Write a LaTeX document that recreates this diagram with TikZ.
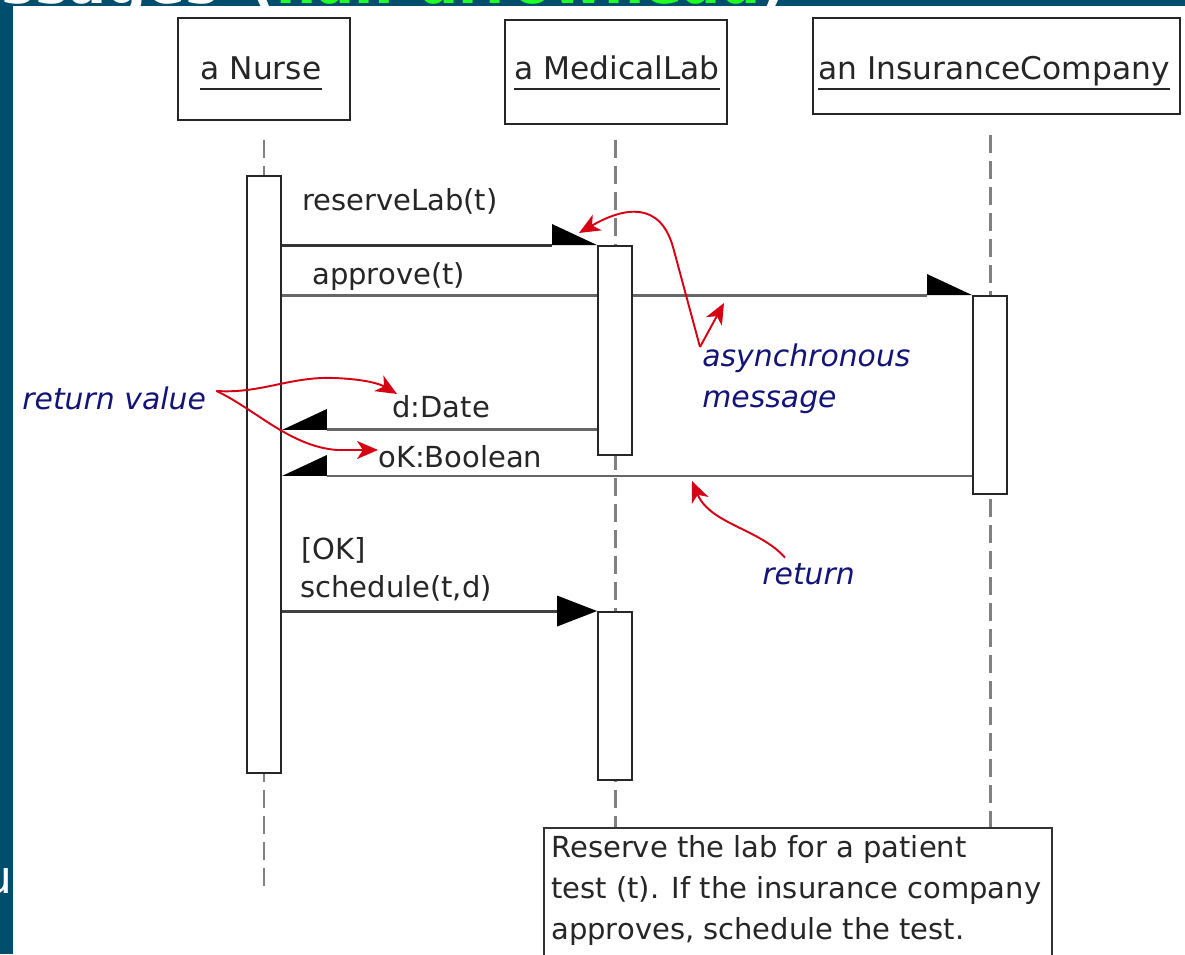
\documentclass[tikz,border=0pt]{standalone}
\usepackage{fontspec}
\setmainfont{DejaVu Sans}
\usetikzlibrary{arrows.meta,positioning,backgrounds}
\definecolor{slideblue}{RGB}{0,78,110}
\definecolor{slidegreen}{RGB}{34,255,34}
\definecolor{remarkred}{RGB}{214,0,20}
\definecolor{remarknavy}{RGB}{20,20,120}
\newcommand{\headfont}{\fontsize{17.8}{21}\selectfont}
\newcommand{\msgfont}{\fontsize{16.5}{23.3}\selectfont}
\newcommand{\remarkfont}{\fontsize{17}{23.8}\selectfont\itshape}
\tikzset{
  headbox/.style={draw=black!85, line width=1.1pt, fill=white, inner sep=0pt},
  headlabel/.style={anchor=base, inner sep=0pt, text=black!85, font=\headfont},
  actbar/.style={draw=black!85, line width=1.1pt, fill=white, minimum width=0.68cm, inner sep=0pt},
  lifeline/.style={draw=black!50, line width=1.7pt, dash pattern=on 0.36cm off 0.16cm},
  asyncmsg/.style={draw=black!60, line width=1.7pt, -{Triangle[harpoon,length=0.9cm,width=0.84cm,line width=0pt,color=black]}},
  returnmsg/.style={draw=black!60, line width=1.7pt, -{Triangle[harpoon,swap,length=0.9cm,width=0.84cm,line width=0pt,color=black]}},
  syncmsg/.style={draw=black!75, line width=1.7pt, -{Triangle[length=0.8cm,width=0.62cm,line width=0pt,color=black]}},
  msglabel/.style={anchor=base west, inner sep=0pt, text=black!85, font=\msgfont},
  remark/.style={inner sep=0pt, text=remarknavy, font=\remarkfont},
  pointer/.style={draw=remarkred, line width=1.1pt, -{Stealth[length=0.42cm,width=0.36cm,inset=0.12cm]}},
  slidetitle/.style={inner sep=0pt, font=\fontsize{32}{36}\selectfont\bfseries}
}
\begin{document}
\begin{tikzpicture}
\useasboundingbox (0,0) rectangle (23.7,19.08);
\begin{scope}[on background layer]
\fill[white] (0,0) rectangle (23.7,19.08);
\end{scope}
%slide edges
\fill[slideblue] (0,0) rectangle (0.25,19.08);
\fill[slideblue] (0,18.96) rectangle (23.7,19.08);
\begin{scope}
\clip (0,18.96) rectangle (23.7,19.08);
\node[slidetitle, anchor=base east, text=white] (titleA) at (4.38,19.0) {Messages};
\node[slidetitle, anchor=base west, text=white] (titleB) at (5.0,19.0) {(\textcolor{slidegreen}{half-arrowhead})};
\end{scope}
\begin{scope}
\clip (0,0) rectangle (0.25,19.08);
\node[anchor=base east, inner sep=0pt, text=white, font=\fontsize{26}{30}\selectfont] (edgeU) at (0.25,1.22) {u};
\end{scope}

%heads
\node[headbox, minimum width=3.44cm, minimum height=2.04cm] (nurse) at (5.28,17.70) {};
\node[headbox, minimum width=4.44cm, minimum height=2.08cm] (lab) at (12.32,17.64) {};
\node[headbox, minimum width=7.34cm, minimum height=1.92cm] (ins) at (19.93,17.76) {};
\node[headlabel] (nurseName) at (5.22,17.48) {a Nurse};
\node[headlabel] (labName) at (12.34,17.48) {a MedicalLab};
\node[headlabel] (insName) at (19.88,17.48) {an InsuranceCompany};
\foreach \n in {nurseName,labName,insName}
  \draw[line width=1.1pt, black!85] ([yshift=-0.18cm]\n.base west) -- ([yshift=-0.18cm]\n.base east);

%activation bars
\node[actbar, minimum height=11.94cm] (nurseBar) at (5.28,9.59) {};
\node[actbar, minimum height=4.18cm] (labBar) at (12.30,12.07) {};
\node[actbar, minimum height=3.96cm] (insBar) at (19.80,11.18) {};
\node[actbar, minimum height=3.36cm] (labBarB) at (12.30,5.16) {};

%ends of lifelines
\coordinate (nurseTop) at (5.28,16.28);
\coordinate (nurseEnd) at (5.28,1.32);
\coordinate (labTop) at (12.30,16.28);
\coordinate (labEnd) at (12.30,2.52);
\coordinate (insTop) at (19.80,16.38);
\coordinate (insEnd) at (19.80,2.52);
%heights of the returns
\coordinate (yDate) at (0,10.48);
\coordinate (yOk) at (0,9.56);

\begin{scope}[on background layer]
\draw[lifeline] (nurseTop) -- (nurseEnd);
\draw[lifeline] (labTop) -- (labEnd);
\draw[lifeline] (insTop) -- (insEnd);
%messages
\draw[asyncmsg, draw=black!80] (nurseBar.east |- labBar.north) -- (labBar.north west);
\draw[asyncmsg] (nurseBar.east |- insBar.north) -- (insBar.north west);
\draw[returnmsg] (labBar.west |- yDate) -- (nurseBar.east |- yDate);
\draw[returnmsg] (insBar.west |- yOk) -- (nurseBar.east |- yOk);
\draw[syncmsg] (nurseBar.east |- labBarB.north) -- (labBarB.north west);
\end{scope}

%message labels
\node[msglabel] (reserveTxt) at (6.04,14.86) {reserveLab(t)};
\node[msglabel] (approveTxt) at (6.24,13.38) {approve(t)};
\node[msglabel] (dateTxt) at (7.84,10.72) {d:Date};
\node[msglabel] (okTxt) at (7.56,9.72) {oK:Boolean};
\node[msglabel] (guardTxt) at (6.02,7.88) {[OK]};
\node[msglabel] (scheduleTxt) at (6.00,7.12) {schedule(t,d)};

%note
\draw[draw=black!80, line width=1.1pt, fill=white] (10.88,2.52) rectangle (21.04,-0.5);
\node[anchor=north west, align=left, inner sep=0.14cm, text=black!85, font=\msgfont] (note) at (10.88,2.52)
  {Reserve the lab for a patient\\test (t). If the insurance company\\approves, schedule the test.};

%remarks
\node[remark, anchor=north west, align=left] (asyncTxt) at (14.04,12.22) {asynchronous\\message};
\node[remark, anchor=base west] (rvTxt) at (0.44,10.88) {return value};
\node[remark, anchor=base west] (returnTxt) at (15.24,7.38) {return};
\coordinate (asyncFrom) at ([xshift=-0.04cm,yshift=-0.08cm]asyncTxt.north west);
\coordinate (asyncTipA) at (11.58,14.42);
\coordinate (asyncTipB) at (14.48,13.02);
\coordinate (rvFrom) at ([xshift=0.2cm,yshift=-0.08cm]rvTxt.north east);
\coordinate (dateTip) at (7.94,11.2);
\coordinate (okTip) at (7.56,10.08);
\coordinate (retFrom) at ([xshift=0.46cm,yshift=0.12cm]returnTxt.north west);
\coordinate (retTip) at (13.84,9.46);
\draw[pointer] (asyncFrom) -- (13.46,14.14) .. controls (13.2,15.05) and (12.5,14.95) .. (asyncTipA);
\draw[pointer] (asyncFrom) -- (asyncTipB);
\draw[pointer] (rvFrom) .. controls (5.2,11.2) and (5.8,11.55) .. (6.66,11.52) .. controls (7.3,11.5) and (7.6,11.4) .. (dateTip);
\draw[pointer] (rvFrom) .. controls (5.1,10.9) and (5.8,10.15) .. (6.74,10.08) -- (okTip);
\draw[pointer] (retFrom) .. controls (15.2,8.5) and (14.2,8.6) .. (retTip);
\end{tikzpicture}
\end{document}
